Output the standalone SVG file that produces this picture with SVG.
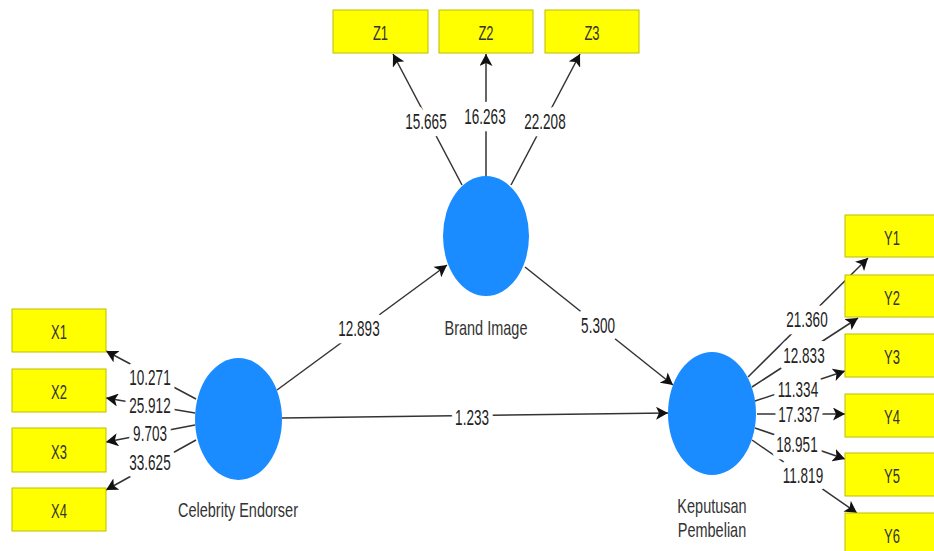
<svg xmlns="http://www.w3.org/2000/svg" width="934" height="551" viewBox="0 0 934 551">
<style>
.box{fill:#ffff00;stroke:#bdbd00;stroke-width:1}
.lv{fill:#1a8cff}
.bt{font-family:"Liberation Sans",Arial,sans-serif;font-size:13px;fill:#333;text-anchor:middle}
.nl{font-family:"Liberation Sans",Arial,sans-serif;font-size:14.5px;fill:#333;text-anchor:middle}
.num{font-family:"Liberation Sans",Arial,sans-serif;font-size:13.5px;fill:#222;text-anchor:middle;paint-order:stroke;stroke:#fff;stroke-width:9px;stroke-linejoin:round}
.c{stroke:#333;stroke-width:1.5;fill:none;marker-end:url(#ah)}
</style>
<defs>
<marker id="ah" markerWidth="13" markerHeight="13" refX="12" refY="6.5" orient="auto" markerUnits="userSpaceOnUse">
<path d="M0,0 L12,6.5 L0,13 L3,6.5 z" fill="#111"/>
</marker>
</defs>
<rect width="934" height="551" fill="#fff"/>
<g id="connectors">
<line class="c" x1="196" y1="399" x2="106" y2="351"/>
<line class="c" x1="195" y1="413" x2="106" y2="398"/>
<line class="c" x1="195" y1="425" x2="106" y2="442"/>
<line class="c" x1="196" y1="440" x2="106" y2="490"/>
<line class="c" x1="462" y1="185" x2="393" y2="54"/>
<line class="c" x1="486" y1="176" x2="486" y2="54"/>
<line class="c" x1="511" y1="185" x2="580" y2="54"/>
<line class="c" x1="748" y1="377" x2="868" y2="258"/>
<line class="c" x1="752" y1="387" x2="858" y2="318"/>
<line class="c" x1="755" y1="401" x2="845" y2="371"/>
<line class="c" x1="757" y1="414" x2="845" y2="414"/>
<line class="c" x1="755" y1="428" x2="845" y2="459"/>
<line class="c" x1="752" y1="440" x2="857" y2="513"/>
<line class="c" x1="277" y1="390" x2="447" y2="265"/>
<line class="c" x1="525" y1="267" x2="673" y2="385"/>
<line class="c" x1="282" y1="418" x2="668" y2="413"/>
<text class="num" transform="translate(150,385) scale(1,1.6)">10.271</text>
<text class="num" transform="translate(150,413) scale(1,1.6)">25.912</text>
<text class="num" transform="translate(150,441) scale(1,1.6)">9.703</text>
<text class="num" transform="translate(150,470) scale(1,1.6)">33.625</text>
<text class="num" transform="translate(426,129) scale(1,1.6)">15.665</text>
<text class="num" transform="translate(485,124) scale(1,1.6)">16.263</text>
<text class="num" transform="translate(545,129) scale(1,1.6)">22.208</text>
<text class="num" transform="translate(807,327) scale(1,1.6)">21.360</text>
<text class="num" transform="translate(804,363) scale(1,1.6)">12.833</text>
<text class="num" transform="translate(798,397) scale(1,1.6)">11.334</text>
<text class="num" transform="translate(799,422) scale(1,1.6)">17.337</text>
<text class="num" transform="translate(797,452) scale(1,1.6)">18.951</text>
<text class="num" transform="translate(803,483) scale(1,1.6)">11.819</text>
<text class="num" transform="translate(359,336) scale(1,1.6)">12.893</text>
<text class="num" transform="translate(598,333) scale(1,1.6)">5.300</text>
<text class="num" transform="translate(472,425) scale(1,1.6)">1.233</text>
</g>
<g id="X1"><rect class="box" x="12" y="309" width="94" height="43"/><text class="bt" transform="translate(59,339) scale(1,1.5)">X1</text></g>
<g id="X2"><rect class="box" x="12" y="369" width="94" height="43"/><text class="bt" transform="translate(59,399) scale(1,1.5)">X2</text></g>
<g id="X3"><rect class="box" x="12" y="428" width="94" height="44"/><text class="bt" transform="translate(59,459) scale(1,1.5)">X3</text></g>
<g id="X4"><rect class="box" x="12" y="488" width="94" height="43"/><text class="bt" transform="translate(59,518) scale(1,1.5)">X4</text></g>
<g id="Z1"><rect class="box" x="333" y="10" width="95" height="43"/><text class="bt" transform="translate(380.5,40) scale(1,1.5)">Z1</text></g>
<g id="Z2"><rect class="box" x="439" y="10" width="94" height="43"/><text class="bt" transform="translate(486,40) scale(1,1.5)">Z2</text></g>
<g id="Z3"><rect class="box" x="545" y="10" width="94" height="43"/><text class="bt" transform="translate(592,40) scale(1,1.5)">Z3</text></g>
<g id="Y1"><rect class="box" x="845" y="215" width="94" height="42"/><text class="bt" transform="translate(892,244.5) scale(1,1.5)">Y1</text></g>
<g id="Y2"><rect class="box" x="845" y="275" width="94" height="42"/><text class="bt" transform="translate(892,304.5) scale(1,1.5)">Y2</text></g>
<g id="Y3"><rect class="box" x="845" y="334" width="94" height="43"/><text class="bt" transform="translate(892,364) scale(1,1.5)">Y3</text></g>
<g id="Y4"><rect class="box" x="845" y="394" width="94" height="43"/><text class="bt" transform="translate(892,424) scale(1,1.5)">Y4</text></g>
<g id="Y5"><rect class="box" x="845" y="453" width="94" height="43"/><text class="bt" transform="translate(892,483) scale(1,1.5)">Y5</text></g>
<g id="Y6"><rect class="box" x="845" y="513" width="94" height="43"/><text class="bt" transform="translate(892,543) scale(1,1.5)">Y6</text></g>
<g id="BrandImage"><ellipse class="lv" cx="486" cy="236" rx="43" ry="60"/><text class="nl" transform="translate(486,335) scale(1,1.45)">Brand Image</text></g>
<g id="CelebrityEndorser"><ellipse class="lv" cx="238.5" cy="419" rx="43.5" ry="61"/><text class="nl" transform="translate(238,517) scale(1,1.45)">Celebrity Endorser</text></g>
<g id="KeputusanPembelian"><ellipse class="lv" cx="712" cy="413.5" rx="44" ry="61.5"/><text class="nl" transform="translate(712,513) scale(1,1.45)">Keputusan</text><text class="nl" transform="translate(712,537) scale(1,1.45)">Pembelian</text></g>
</svg>
